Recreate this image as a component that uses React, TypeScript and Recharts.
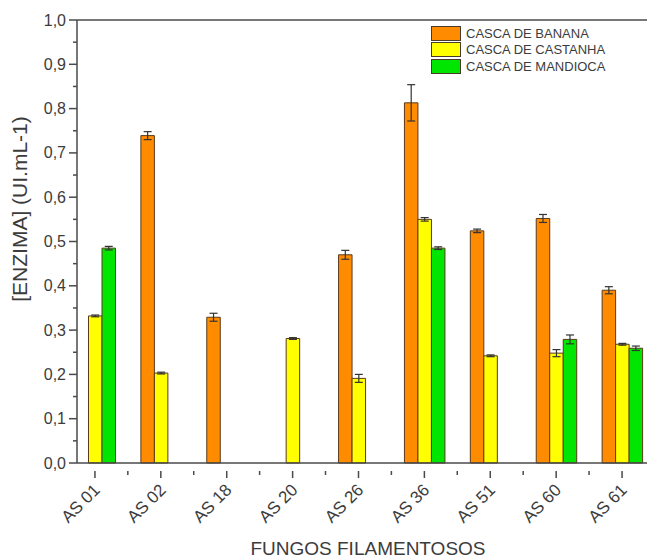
import { Bar, BarChart, ErrorBar, Label, Legend, ReferenceLine, XAxis, YAxis } from "recharts";

const categories = ["AS 01", "AS 02", "AS 18", "AS 20", "AS 26", "AS 36", "AS 51", "AS 60", "AS 61"];
const banana = [null, 0.739, 0.329, null, 0.47, 0.813, 0.524, 0.552, 0.39];
const bananaErr = [null, 0.009, 0.009, null, 0.01, 0.041, 0.004, 0.009, 0.008];
const castanha = [0.332, 0.203, null, 0.281, 0.191, 0.55, 0.242, 0.248, 0.268];
const castanhaErr = [0.002, 0.002, null, 0.002, 0.009, 0.004, 0.002, 0.008, 0.002];
const mandioca = [0.485, null, null, null, null, 0.485, null, 0.279, 0.259];
const mandiocaErr = [0.004, null, null, null, null, 0.003, null, 0.01, 0.005];
const yTicks = [0, 0.05, 0.1, 0.15, 0.2, 0.25, 0.3, 0.35, 0.4, 0.45, 0.5, 0.55, 0.6, 0.65, 0.7, 0.75, 0.8, 0.85, 0.9, 0.95, 1];

const data = categories.map((name, i) => ({
  name,
  banana: banana[i],
  bananaErr: bananaErr[i],
  castanha: castanha[i],
  castanhaErr: castanhaErr[i],
  mandioca: mandioca[i],
  mandiocaErr: mandiocaErr[i]
}));

const FONT = "'Liberation Sans', Arial, sans-serif";
const AXIS = "#4a4a4a";
const TEXT = "#3c3c3c";
const HALF_BAND = 33;

const YTick = ({ x, y, payload }: { x?: number; y?: number; payload?: { value: number } }) => {
  const v = payload.value;
  const major = Math.abs(Math.round(v * 10) - v * 10) < 1e-6;
  return (
    <g>
      <line x1={x - (major ? 8 : 4)} y1={y} x2={x} y2={y} stroke={AXIS} strokeWidth={1.5} />
      {major && (
        <text x={x - 11} y={y} dy={5.5} textAnchor="end" fontSize={16} fontFamily={FONT} fill={TEXT}>
          {v.toFixed(1).replace(".", ",")}
        </text>
      )}
    </g>
  );
};

const XTick = ({ x, y, payload, index }: { x?: number; y?: number; payload?: { value: string }; index?: number }) => (
  <g>
    <line x1={x} y1={y} x2={x} y2={y + 7} stroke={AXIS} strokeWidth={1.5} />
    {index > 0 && <line x1={x - HALF_BAND} y1={y} x2={x - HALF_BAND} y2={y + 4} stroke={AXIS} strokeWidth={1.5} />}
    <text
      x={x + 6}
      y={y + 20}
      transform={`rotate(-45, ${x + 6}, ${y + 20})`}
      textAnchor="end"
      fontSize={17}
      fontFamily={FONT}
      fill={TEXT}
    >
      {payload.value}
    </text>
  </g>
);

const LegendBox = ({ payload }: { payload?: Array<{ value: string; color: string }> }) => (
  <div style={{ fontFamily: FONT, fontSize: 13, color: TEXT }}>
    {payload.map((p) => (
      <div key={p.value} style={{ display: "flex", alignItems: "center", height: 16.5 }}>
        <span
          style={{
            display: "inline-block",
            width: 28,
            height: 13,
            background: p.color,
            border: "1px solid #4a3a2a",
            marginRight: 5
          }}
        />
        {p.value}
      </div>
    ))}
  </div>
);

export default function App() {
  return (
    <div style={{ position: "absolute", left: 0, top: 0, background: "#fff" }}>
      <BarChart
        width={647}
        height={558}
        data={data}
        margin={{ top: 20, right: 0, left: 0, bottom: 0 }}
        barGap={0}
        barSize={13.5}
      >
        <XAxis
          dataKey="name"
          height={95}
          padding={{ left: -15, right: -8 }}
          axisLine={{ stroke: AXIS, strokeWidth: 1.5 }}
          tickLine={false}
          tick={<XTick />}
          interval={0}
        >
          <Label
            content={() => (
              <text x={368} y={555} textAnchor="middle" fontSize={19} fontFamily={FONT} fill={TEXT}>
                FUNGOS FILAMENTOSOS
              </text>
            )}
          />
        </XAxis>
        <YAxis
          width={77}
          domain={[0, 1]}
          ticks={yTicks}
          interval={0}
          tickSize={0}
          tickMargin={0}
          tickLine={false}
          axisLine={{ stroke: AXIS, strokeWidth: 1.5 }}
          tick={<YTick />}
        >
          <Label
            content={() => (
              <text
                x={27}
                y={209}
                transform="rotate(-90, 27, 209)"
                textAnchor="middle"
                fontSize={21}
                fontFamily={FONT}
                fill={TEXT}
              >
                [ENZIMA] (UI.mL-1)
              </text>
            )}
          />
        </YAxis>
        <ReferenceLine y={1} stroke={AXIS} strokeWidth={1.5} />
        <Legend
          content={<LegendBox />}
          layout="vertical"
          verticalAlign="middle"
          align="center"
          wrapperStyle={{ left: 431, top: 25, width: 200 }}
        />
        <Bar dataKey="banana" name="CASCA DE BANANA" fill="#FF8C00" stroke="#5a3a1a" strokeWidth={1} isAnimationActive={false}>
          <ErrorBar dataKey="bananaErr" width={4} stroke="#333" strokeWidth={1.2} />
        </Bar>
        <Bar dataKey="castanha" name="CASCA DE CASTANHA" fill="#FFFF00" stroke="#5a3a1a" strokeWidth={1} isAnimationActive={false}>
          <ErrorBar dataKey="castanhaErr" width={4} stroke="#333" strokeWidth={1.2} />
        </Bar>
        <Bar dataKey="mandioca" name="CASCA DE MANDIOCA" fill="#00E600" stroke="#5a3a1a" strokeWidth={1} isAnimationActive={false}>
          <ErrorBar dataKey="mandiocaErr" width={4} stroke="#333" strokeWidth={1.2} />
        </Bar>
      </BarChart>
    </div>
  );
}
